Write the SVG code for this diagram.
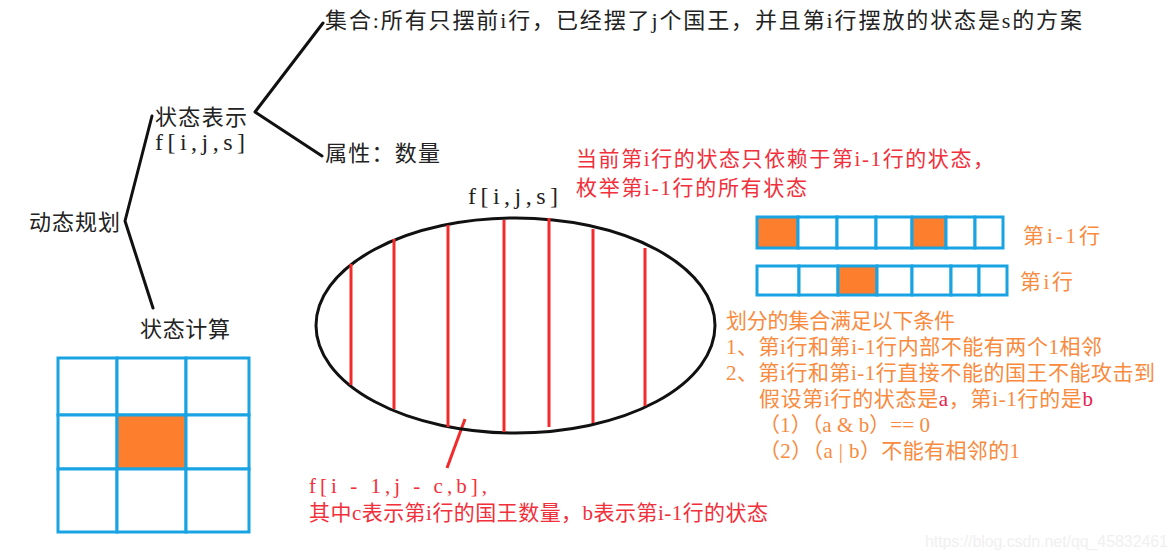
<svg xmlns="http://www.w3.org/2000/svg" width="1176" height="560" viewBox="0 0 1176 560">
<style>
.blk{font-family:"Liberation Serif","Noto Sans CJK SC",serif;fill:#222;font-size:22px}
.lat{font-size:24px}
.red{font-family:"Liberation Serif","Noto Sans CJK SC",serif;fill:#f2303c;font-size:21px}
.org{font-family:"Liberation Serif","Noto Sans CJK SC",serif;fill:#f98a3e;font-size:21px}
.pk{fill:#e8204a}
.ln{stroke:#111;stroke-width:3;fill:none;stroke-linecap:round;stroke-linejoin:round}
.rl{stroke:#f22a2a;stroke-width:3;fill:none}
.cell{fill:#fff;stroke:#19a3e3;stroke-width:3}
.on{fill:#fd7e2c;stroke:#19a3e3;stroke-width:3}
.wm{font-family:"Liberation Sans",Arial,sans-serif;fill:#f0f0f0;font-size:16px}
</style>
<rect width="1176" height="560" fill="#fff"/>

<g id="connectors">
<polyline class="ln" points="323,23 255,112 322,156"/>
<polyline class="ln" points="152,116 125,221 153,308"/>
<line class="rl" x1="465" y1="419" x2="447" y2="468"/>
</g>

<g id="dp"><text class="blk" x="29" y="230" textLength="91">动态规划</text></g>
<g id="state-repr">
<text class="blk" x="155" y="125" textLength="92">状态表示</text>
<text class="blk lat" x="155" y="150" textLength="90">f[i,j,s]</text>
</g>
<g id="set"><text class="blk" x="325" y="28" textLength="757">集合:所有只摆前i行，已经摆了j个国王，并且第i行摆放的状态是s的方案</text></g>
<g id="attr"><text class="blk" x="325" y="161" textLength="115">属性：数量</text></g>
<g id="state-calc"><text class="blk" x="140" y="337" textLength="90">状态计算</text></g>

<g id="grid3x3">
<rect class="cell" x="58" y="358" width="59" height="57"/>
<rect class="cell" x="117" y="358" width="69" height="57"/>
<rect class="cell" x="186" y="358" width="63" height="57"/>
<rect class="cell" x="58" y="415" width="59" height="54"/>
<rect class="on" x="117" y="415" width="69" height="54"/>
<rect class="cell" x="186" y="415" width="63" height="54"/>
<rect class="cell" x="58" y="469" width="59" height="63"/>
<rect class="cell" x="117" y="469" width="69" height="63"/>
<rect class="cell" x="186" y="469" width="63" height="63"/>
</g>

<g id="ellipse-set">
<text class="blk lat" x="468" y="204" textLength="90">f[i,j,s]</text>
<ellipse cx="515.5" cy="325.5" rx="199.5" ry="107.5" fill="none" stroke="#111" stroke-width="3"/>
<line class="rl" x1="351" y1="264" x2="351" y2="385"/>
<line class="rl" x1="394" y1="239" x2="394" y2="409"/>
<line class="rl" x1="448" y1="225" x2="448" y2="427"/>
<line class="rl" x1="504" y1="220" x2="504" y2="432"/>
<line class="rl" x1="549" y1="218" x2="549" y2="427"/>
<line class="rl" x1="593" y1="229" x2="593" y2="423"/>
<line class="rl" x1="645" y1="248" x2="645" y2="406"/>
</g>

<g id="note-depend">
<text class="red" x="576" y="166" font-size="22" textLength="418">当前第i行的状态只依赖于第i-1行的状态，</text>
<text class="red" x="576" y="195" font-size="22" textLength="231">枚举第i-1行的所有状态</text>
</g>

<g id="row-prev">
<rect class="on" x="757" y="217" width="41" height="31"/>
<rect class="cell" x="798" y="217" width="39" height="31"/>
<rect class="cell" x="837" y="217" width="39" height="31"/>
<rect class="cell" x="876" y="217" width="36" height="31"/>
<rect class="on" x="912" y="217" width="34" height="31"/>
<rect class="cell" x="946" y="217" width="29" height="31"/>
<rect class="cell" x="975" y="217" width="28" height="31"/>
<text class="org" x="1023" y="243" font-size="20" textLength="77">第i-1行</text>
</g>
<g id="row-cur">
<rect class="cell" x="757" y="266" width="42" height="29"/>
<rect class="cell" x="799" y="266" width="39" height="29"/>
<rect class="on" x="838" y="266" width="39" height="29"/>
<rect class="cell" x="877" y="266" width="35" height="29"/>
<rect class="cell" x="912" y="266" width="39" height="29"/>
<rect class="cell" x="951" y="266" width="28" height="29"/>
<rect class="cell" x="979" y="266" width="28" height="29"/>
<text class="org" x="1020" y="289" font-size="20" textLength="53">第i行</text>
</g>

<g id="conditions">
<text class="org" x="726" y="328" textLength="229">划分的集合满足以下条件</text>
<text class="org" x="726" y="354" textLength="376">1、第i行和第i-1行内部不能有两个1相邻</text>
<text class="org" x="726" y="380" textLength="429">2、第i行和第i-1行直接不能的国王不能攻击到</text>
<text class="org" x="759" y="406" textLength="334">假设第i行的状态是<tspan class="pk">a</tspan>，第i-1行的是<tspan class="pk">b</tspan></text>
<text class="org" x="759" y="432" textLength="171">（1）（a &amp; b）== 0</text>
<text class="org" x="759" y="458" textLength="261">（2）（a | b）不能有相邻的1</text>
</g>

<g id="note-sub">
<text class="red" x="309" y="493" font-size="22" textLength="178">f[i - 1,j - c,b],</text>
<text class="red" x="309" y="520" textLength="459">其中c表示第i行的国王数量，b表示第i-1行的状态</text>
</g>

<text class="wm" x="925" y="547" textLength="243">https://blog.csdn.net/qq_45832461</text>
</svg>
